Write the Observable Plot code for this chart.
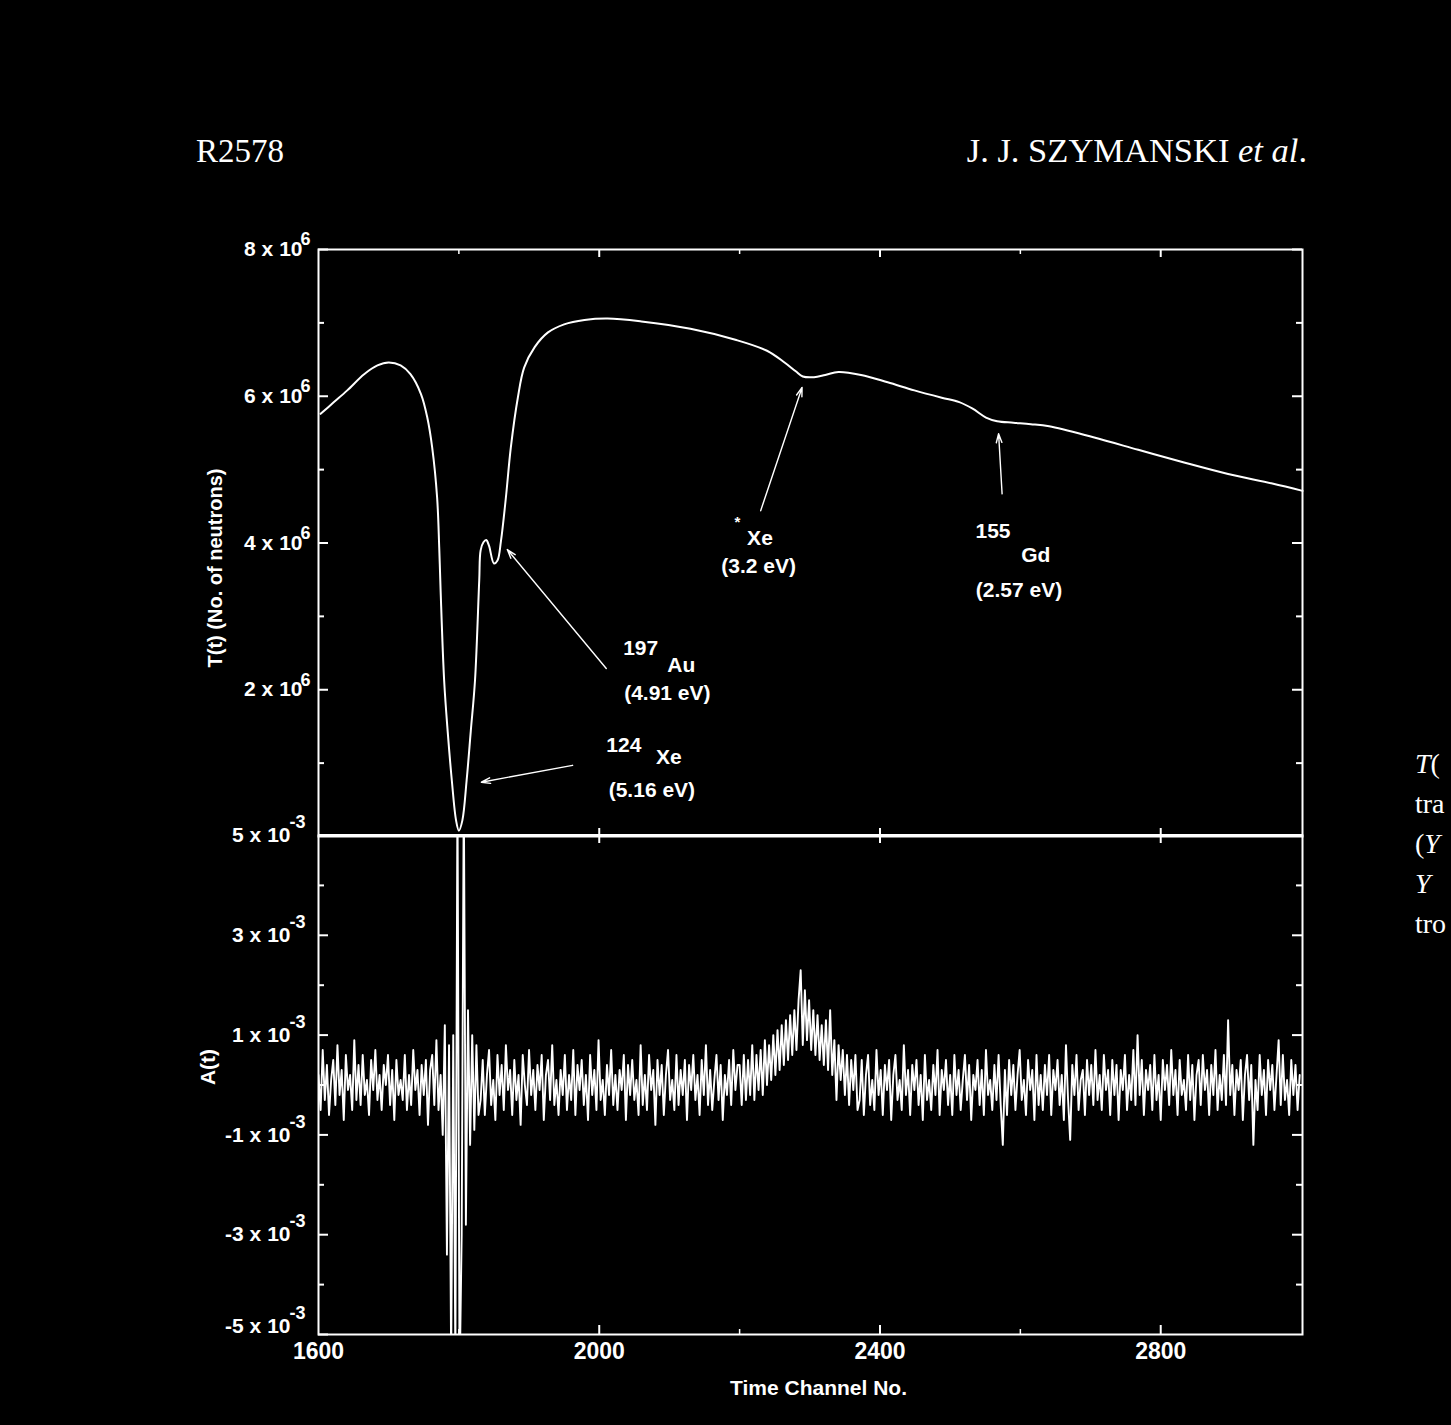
<!DOCTYPE html>
<html><head><meta charset="utf-8">
<script src="https://cdn.jsdelivr.net/npm/d3@7"></script>
<script src="https://cdn.jsdelivr.net/npm/@observablehq/plot@0.6"></script>
<style>
html,body{margin:0;padding:0;background:#000;overflow:hidden;width:1451px;height:1425px;}
#page{position:relative;width:1451px;height:1425px;overflow:hidden;background:#000;}
.hdr{position:absolute;color:#fff;font-family:"Liberation Serif","Times New Roman",serif;font-size:33px;line-height:33px;white-space:nowrap;}
#cap{position:absolute;left:1415px;top:744px;color:#fff;font-family:"Liberation Serif","Times New Roman",serif;font-size:28px;line-height:40px;white-space:nowrap;}
#topPlot{position:absolute;left:0;top:230px;}
#botPlot{position:absolute;left:0;top:790px;}
</style></head>
<body><div id="page">
<div class="hdr" style="left:196px;top:135px;">R2578</div>
<div class="hdr" style="right:144px;top:134px;font-size:34.5px;">J. J. SZYMANSKI <i>et al</i>.</div>
<div id="cap"><i>T</i>(<br>tra<br>(<i>Y</i><br><i>Y</i><br>tro</div>
<div id="topPlot"></div>
<div id="botPlot"></div>
</div>
<script>
// ---- T(t): transmission, units of 10^6 neutrons ----
const tChannel = [1603,1622,1641,1665,1684,1700,1717,1731,1746,1755,1762,1769,1772,1774,1779,1784,1790,1796,1800,1805,1811,1817,1823,1829,1831,1835,1839,1843,1850,1855,1860,1867,1874,1884,1893,1908,1927,1950,1979,2012,2060,2130,2194,2239,2264,2280,2290,2306,2322,2341,2373,2411,2449,2488,2513,2532,2551,2567,2590,2615,2641,2704,2768,2832,2896,2959,3002];
const tValue = [5.76,5.92,6.08,6.30,6.42,6.46,6.42,6.30,6.03,5.71,5.30,4.62,3.94,3.35,2.13,1.44,0.76,0.22,0.08,0.22,0.76,1.44,2.13,3.49,3.90,4.01,4.04,3.96,3.72,3.76,4.03,4.62,5.30,5.98,6.39,6.67,6.87,6.98,7.04,7.06,7.02,6.92,6.77,6.62,6.46,6.34,6.27,6.26,6.29,6.33,6.29,6.19,6.08,5.98,5.92,5.83,5.71,5.66,5.64,5.62,5.59,5.44,5.27,5.10,4.94,4.81,4.71];

// ---- A(t): asymmetry, units of 10^-4, one value every 3 channels from channel 1600 ----
const aStartChannel = 1600, aChannelStep = 3;
const aValue = [
 2,-5,7,-3,4,-6,1,5,-4,8, -2,3,-7,6,-1,2,-5,9,-3,4, -4,6,-2,1,-6,5,-1,7,-3,2, -5,4,0,6,-4,3,-7,5,-2,1, -3,6,-5,2,-4,7,-1,3,-6,4, -2,5,-8,3,6,-4,9,-5,2,
 -10,12,-34,8,-55,10,-55,60,-60,-30,60,-28,15,-12,10,-9,8,-6,
 -3,5,-6,2,7,-4,1,-7,6,-2, 4,-5,8,-1,3,-6,5,-3,2,-8, 6,0,-4,7,-2,3,-5,4,-1,6, -7,2,5,-3,8,-4,1,-6,3,-2, 6,-5,2,-3,7,-6,4,-1,5,-4,
 2,-7,6,-2,3,-5,9,-3,1,-6, 4,-2,7,-4,2,-5,3,-1,6,-7, 4,-2,5,-3,1,-6,8,-4,2,-5, 6,-1,3,-8,5,-2,4,-6,2,7, -3,1,-5,6,-4,3,-2,5,-7,4,
 -1,6,-3,2,-6,5,-2,8,-4,3, -5,1,6,-3,4,-7,2,-2,5,-4, 7,-1,4,
 4,-4,6,-3,5,-2,8,-3,6,-1, 7,-2,9,0,8,1,10,2,11,3, 12,4,13,5,14,6,15,7,17,23,
 8,19,9,17,7,15,6,14,5,12, 4,13,3,15,2,9,-3,8,1,7, -2,6,-4,5,-1,6,-5,
 -3,5,-6,2,6,-4,1,-5,7,-2, 3,-6,4,-1,5,-7,2,6,-3,1, -5,8,-2,3,-6,4,-1,5,-4,2, -7,6,-3,1,-5,4,-2,7,-6,3, -1,5,-4,2,-6,6,-2,3,-5,1,
 6,-3,4,-7,2,-1,5,-4,3,-6, 7,-2,1,-5,4,-3,6,-4,-12,3, -6,5,-2,4,-5,2,7,-3,1,-6, 5,-1,3,-7,6,-4,2,-5,4,-2, 6,-6,3,-1,5,-4,2,-7,8,-3,
 -11,4,-2,6,-5,1,3,-6,5,-2, 4,-4,7,-3,2,-5,6,-1,3,-6, 5,-2,4,-7,3,-1,6,-5,2,-3, 7,-4,10,-2,5,-6,3,-1,4,-5, 6,-3,2,-7,5,-1,4,-4,7,-2,
 3,-6,5,-2,1,-5,6,-3,4,-7, 2,5,-4,6,-1,3,-6,4,-2,7, -5,2,-3,6,-4,13,-2,4,-6,3, -1,5,-7,2,6,-3,4,-12,1,-5, 6,-2,3,-6,5,-1,4,-5,2,9,
 -4,6,-3,1,-6,5,-2,4,-5,2
];

// ---- axes ----
const xDomain = [1600, 3002];
const xMajor = [1600, 2000, 2400, 2800];
const xMinor = [1800, 2200, 2600];
const xTitle = "Time Channel No.";
const tMajor = [8, 6, 4, 2];
const tMinor = [7, 5, 3, 1];
const tMajorBase = ["8 x 10", "6 x 10", "4 x 10", "2 x 10"];
const tExponent = "6";
const tTitle = "T(t) (No. of neutrons)";
const aMajor = [50, 30, 10, -10, -30];
const aMajorBase = ["5 x 10", "3 x 10", "1 x 10", "-1 x 10", "-3 x 10"];
const aBottom = [-50];
const aBottomBase = ["-5 x 10"];
const aMinor = [40, 20, 0, -20, -40];
const aExponent = "-3";
const aTitle = "A(t)";

// ---- annotations (data coordinates) ----
const annLabel = ["Xe", "(3.2 eV)", "155", "Gd", "(2.57 eV)", "197", "Au", "(4.91 eV)", "124", "Xe", "(5.16 eV)"];
const annChannel = [2229, 2227, 2561, 2622, 2598, 2059, 2117, 2097, 2035, 2099, 2075];
const annT = [4.07, 3.68, 4.16, 3.83, 3.35, 2.57, 2.34, 1.95, 1.25, 1.08, 0.63];
const starChannel = [2197], starT = [4.28];
const arrowFromCh = [2230, 2574, 2010, 1962];
const arrowFromT = [4.44, 4.67, 2.29, 0.97];
const arrowToCh = [2289, 2569, 1869, 1832];
const arrowToT = [6.12, 5.49, 3.91, 0.74];

// ---- build tables ----
const tData = tChannel.map((c, i) => ({ch: c, t: tValue[i]}));
const aData = aValue.map((v, i) => ({ch: aStartChannel + aChannelStep * i, a: v}));
const ann = annLabel.map((s, i) => ({s, ch: annChannel[i], t: annT[i]}));
const arrows = arrowFromCh.map((c, i) => ({x1: c, y1: arrowFromT[i], x2: arrowToCh[i], y2: arrowToT[i]}));

const FONT = "'Liberation Sans', Arial, Helvetica, sans-serif";
const W = 1340, ML = 318, MR = 38;
const innerW = W - ML - MR;
const C = "white";

// Top panel
const tH = 620, tMT = 19, tMB = 14, tInnerH = tH - tMT - tMB;
const topChart = Plot.plot({
  width: W, height: tH, marginLeft: ML, marginRight: MR, marginTop: tMT, marginBottom: tMB,
  x: {domain: xDomain, axis: null},
  y: {domain: [0, 8], axis: null},
  style: {background: "transparent", color: C, fontFamily: FONT, fontSize: "21px", fontWeight: "bold", overflow: "visible"},
  marks: [
    Plot.frame({stroke: C, strokeWidth: 2}),
    Plot.tickY(tMajor, {y: d => d, stroke: C, strokeWidth: 2, insetRight: innerW - 10}),
    Plot.tickY(tMinor, {y: d => d, stroke: C, strokeWidth: 2, insetRight: innerW - 6}),
    Plot.tickY(tMajor, {y: d => d, stroke: C, strokeWidth: 2, insetLeft: innerW - 10}),
    Plot.tickY(tMinor, {y: d => d, stroke: C, strokeWidth: 2, insetLeft: innerW - 6}),
    Plot.tickX(xMajor.slice(1), {x: d => d, stroke: C, strokeWidth: 2, insetBottom: tInnerH - 8}),
    Plot.tickX(xMinor, {x: d => d, stroke: C, strokeWidth: 1.5, insetBottom: tInnerH - 5}),
    Plot.tickX(xMajor.slice(1), {x: d => d, stroke: C, strokeWidth: 2, insetTop: tInnerH - 8}),
    Plot.line(tData, {x: "ch", y: "t", stroke: C, strokeWidth: 2, curve: "catmull-rom"}),
    Plot.text(tMajor, {y: d => d, text: (d, i) => tMajorBase[i], frameAnchor: "left", textAnchor: "end", dx: -16, fill: C, fontSize: 21, fontWeight: "bold"}),
    Plot.text(tMajor, {y: d => d, text: () => tExponent, frameAnchor: "left", textAnchor: "start", dx: -18, dy: -10, fill: C, fontSize: 18, fontWeight: "bold"}),
    Plot.text([tTitle], {text: d => d, frameAnchor: "left", textAnchor: "middle", rotate: -90, dx: -103, dy: 25, fill: C, fontSize: 20, fontWeight: "bold"}),
    Plot.arrow(arrows, {x1: "x1", y1: "y1", x2: "x2", y2: "y2", stroke: C, strokeWidth: 1.4, headLength: 10, headAngle: 35}),
    Plot.text(ann, {x: "ch", y: "t", text: "s", fill: C, fontSize: 21, fontWeight: "bold"}),
    Plot.text(starChannel, {x: d => d, y: (d, i) => starT[i], text: () => "*", fill: C, fontSize: 15, fontWeight: "bold"})
  ]
});
document.getElementById("topPlot").appendChild(topChart);

// Bottom panel
const bH = 630, bMT = 45, bMB = 86, bInnerH = bH - bMT - bMB;
const botChart = Plot.plot({
  width: W, height: bH, marginLeft: ML, marginRight: MR, marginTop: bMT, marginBottom: bMB,
  x: {domain: xDomain, axis: null},
  y: {domain: [-50, 50], axis: null},
  style: {background: "transparent", color: C, fontFamily: FONT, fontSize: "21px", fontWeight: "bold", overflow: "visible"},
  marks: [
    Plot.line(aData, {x: "ch", y: "a", stroke: C, strokeWidth: 1.9, clip: true}),
    Plot.frame({stroke: C, strokeWidth: 2}),
    Plot.ruleY([50], {stroke: C, strokeWidth: 3}),
    Plot.tickY(aMajor.slice(1).concat(aBottom), {y: d => d, stroke: C, strokeWidth: 2, insetRight: innerW - 10}),
    Plot.tickY(aMinor, {y: d => d, stroke: C, strokeWidth: 2, insetRight: innerW - 6}),
    Plot.tickY(aMajor.slice(1), {y: d => d, stroke: C, strokeWidth: 2, insetLeft: innerW - 10}),
    Plot.tickY(aMinor, {y: d => d, stroke: C, strokeWidth: 2, insetLeft: innerW - 6}),
    Plot.tickX(xMajor.slice(1), {x: d => d, stroke: C, strokeWidth: 2, insetBottom: bInnerH - 8}),
    Plot.tickX(xMajor.slice(1), {x: d => d, stroke: C, strokeWidth: 2, insetTop: bInnerH - 9}),
    Plot.tickX(xMinor, {x: d => d, stroke: C, strokeWidth: 1.5, insetTop: bInnerH - 5}),
    Plot.text(aMajor, {y: d => d, text: (d, i) => aMajorBase[i], frameAnchor: "left", textAnchor: "end", dx: -28, fill: C, fontSize: 21, fontWeight: "bold"}),
    Plot.text(aMajor, {y: d => d, text: () => aExponent, frameAnchor: "left", textAnchor: "start", dx: -29, dy: -13, fill: C, fontSize: 18, fontWeight: "bold"}),
    Plot.text(aBottom, {y: d => d, text: (d, i) => aBottomBase[i], frameAnchor: "left", textAnchor: "end", dx: -28, dy: -8, fill: C, fontSize: 21, fontWeight: "bold"}),
    Plot.text(aBottom, {y: d => d, text: () => aExponent, frameAnchor: "left", textAnchor: "start", dx: -29, dy: -21, fill: C, fontSize: 18, fontWeight: "bold"}),
    Plot.text(xMajor, {x: d => d, text: d => String(d), frameAnchor: "bottom", dy: 24, fill: C, fontSize: 23, fontWeight: "bold"}),
    Plot.text([xTitle], {text: d => d, frameAnchor: "bottom", dx: 8, dy: 60, fill: C, fontSize: 21, fontWeight: "bold"}),
    Plot.text([aTitle], {text: d => d, frameAnchor: "left", textAnchor: "middle", rotate: -90, dx: -110, dy: -18, fill: C, fontSize: 21, fontWeight: "bold"})
  ]
});
document.getElementById("botPlot").appendChild(botChart);
</script>
</body></html>
